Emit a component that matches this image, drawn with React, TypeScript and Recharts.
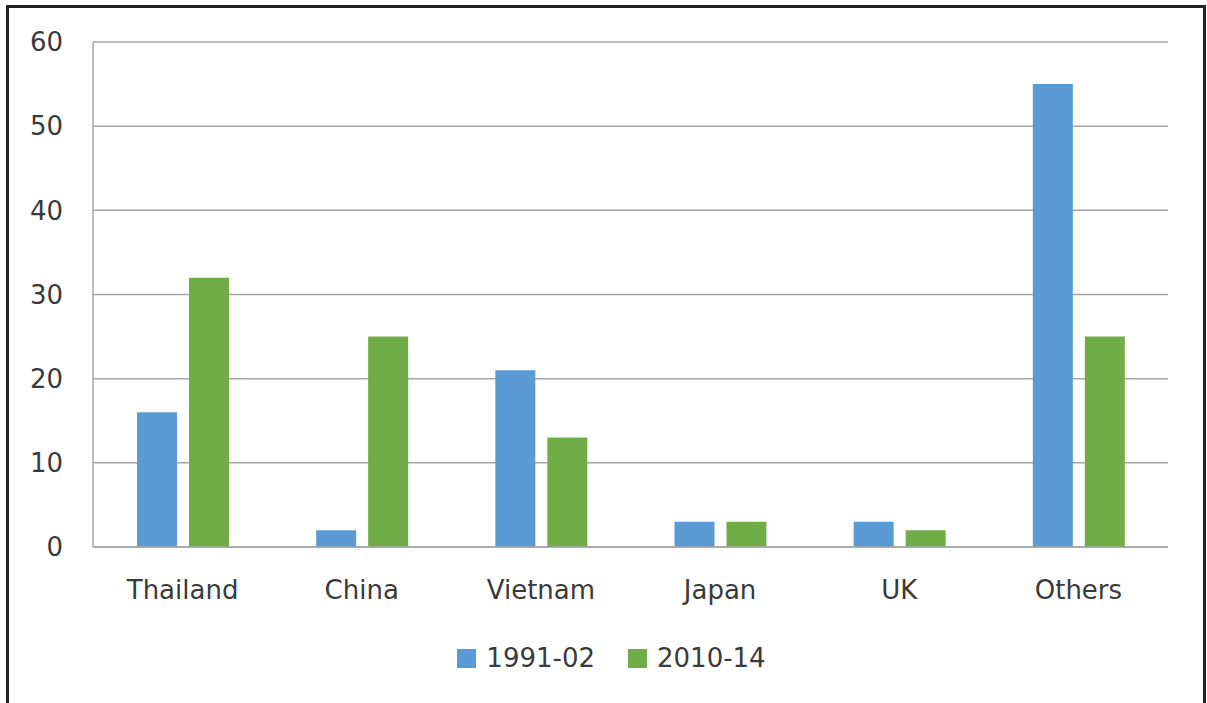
import { BarChart, Bar, XAxis, YAxis, CartesianGrid, Legend } from "recharts";

const CATEGORIES = ["Thailand", "China", "Vietnam", "Japan", "UK", "Others"];
const SERIES_1991 = [16, 2, 21, 3, 3, 55];
const SERIES_2010 = [32, 25, 13, 3, 2, 25];
const Y_TICKS = [0, 10, 20, 30, 40, 50, 60];

const BLUE = "#5b9bd5";
const GREEN = "#70ad47";
const TEXT = "#3a3a3a";
const FONT = "'DejaVu Sans', Verdana, sans-serif";

const data = CATEGORIES.map((name, i) => ({
  name,
  p1991: SERIES_1991[i],
  p2010: SERIES_2010[i],
}));

function LegendContent(props: any) {
  const items = props.payload || [];
  return (
    <div style={{ display: "flex", justifyContent: "center", alignItems: "center", fontFamily: FONT, fontSize: 26, color: TEXT }}>
      {items.map((it: any, i: number) => (
        <div key={i} style={{ display: "flex", alignItems: "center", marginLeft: i === 0 ? 0 : 33 }}>
          <span style={{ display: "inline-block", width: 19, height: 19, background: it.color, marginRight: 10 }} />
          <span>{it.value}</span>
        </div>
      ))}
    </div>
  );
}

export default function App() {
  return (
    <div style={{ position: "absolute", left: 0, top: 0, width: 1207, height: 703, overflow: "hidden", background: "#fff" }}>
      <div
        style={{
          position: "absolute",
          left: 6,
          top: 5,
          width: 1194,
          height: 720,
          border: "3px solid #222",
        }}
      />
      <div style={{ position: "absolute", left: 0, top: 0 }}>
        <BarChart
          width={1207}
          height={703}
          data={data}
          margin={{ top: 42, right: 39, bottom: 0, left: 0 }}
          barSize={40}
          barGap={12}
        >
          <CartesianGrid vertical={false} stroke="#a6a6a6" strokeWidth={1.5} />
          <XAxis
            dataKey="name"
            height={156}
            tickLine={false}
            axisLine={{ stroke: "#a6a6a6", strokeWidth: 1.5 }}
            tickMargin={28}
            tick={{ fill: TEXT, fontSize: 26, fontFamily: FONT }}
            interval={0}
          />
          <YAxis
            width={93}
            domain={[0, 60]}
            ticks={Y_TICKS}
            tickLine={false}
            axisLine={{ stroke: "#a6a6a6", strokeWidth: 1.5 }}
            tickMargin={24}
            tick={{ fill: TEXT, fontSize: 26, fontFamily: FONT }}
          />
          <Legend
            layout="horizontal"
            verticalAlign="middle"
            align="center"
            wrapperStyle={{ top: 643, left: 8, width: 1207 }}
            content={<LegendContent />}
          />
          <Bar dataKey="p1991" name="1991-02" fill={BLUE} isAnimationActive={false} />
          <Bar dataKey="p2010" name="2010-14" fill={GREEN} isAnimationActive={false} />
        </BarChart>
      </div>
    </div>
  );
}
